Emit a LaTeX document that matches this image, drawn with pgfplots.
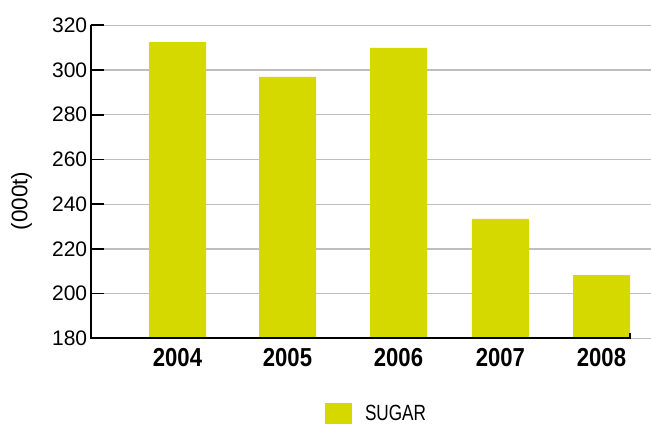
\documentclass[border=0pt]{standalone}
\usepackage{pgfplots}
\pgfplotsset{compat=1.18}
\usepackage{fontspec}
\setmainfont{Liberation Sans}
\newfontfamily\condfont{Liberation Sans}[FakeStretch=0.78]
\newfontfamily\xfont{Liberation Sans}[FakeStretch=0.85]
\definecolor{sugar}{RGB}{213,217,0}
\definecolor{gridgray}{RGB}{190,190,190}
\begin{document}
\begin{tikzpicture}
\useasboundingbox (0,0) rectangle (651pt,-425pt);
\begin{axis}[
  at={(90.7pt,-338.3pt)}, anchor=south west,
  scale only axis, width=560.3pt, height=313pt,
  xmin=90.7, xmax=651, ymin=180, ymax=320,
  axis line style={draw=none},
  ytick={180,200,...,320},
  ytick pos=left,
  tick align=inside,
  major tick length=13pt,
  ytick style={black, line width=1.7pt},
  xtick={177.5,287.5,398.5,500.4,601.5},
  xticklabels={2004,2005,2006,2007,2008},
  xtick style={draw=none},
  ymajorgrids,
  grid style={gridgray, line width=1.3pt},
  /pgf/number format/assume math mode=true,
  yticklabel style={font=\fontsize{21}{21}\selectfont},
  xticklabel style={font=\xfont\bfseries\fontsize{26}{26}\selectfont, yshift=-6.5pt},
  ylabel={(000t)},
  ylabel style={at={(axis description cs:-0.1235,0.4387)}, anchor=center, font=\fontsize{22.5}{22.5}\selectfont},
  legend style={at={(axis description cs:0.4182,-0.2748)}, anchor=south west,
    draw=none, fill=none, inner sep=0pt, outer sep=0pt,
    font=\condfont\fontsize{22}{22}\selectfont,
    nodes={inner sep=0pt},
    /tikz/every odd column/.append style={column sep=13pt}},
  legend image code/.code={\fill[sugar] (0pt,-10.5pt) rectangle (27pt,10.5pt);},
  clip mode=individual,
]
\addplot[ybar, fill=sugar, draw=none, bar width=57, bar shift=0pt]
  coordinates {(177.5,312.5) (287.5,296.9) (398.5,309.85) (500.4,233.4) (601.5,208.3)};
\addlegendentry{SUGAR}
\draw[black, line width=1.7pt] (axis cs:90.7,320) -- ([xshift=13pt]axis cs:90.7,320);
\draw[black, line width=1.7pt] (axis cs:90.7,300) -- ([xshift=13pt]axis cs:90.7,300);
\draw[black, line width=1.7pt] (axis cs:90.7,280) -- ([xshift=13pt]axis cs:90.7,280);
\draw[black, line width=1.7pt] (axis cs:90.7,260) -- ([xshift=13pt]axis cs:90.7,260);
\draw[black, line width=1.7pt] (axis cs:90.7,240) -- ([xshift=13pt]axis cs:90.7,240);
\draw[black, line width=1.7pt] (axis cs:90.7,220) -- ([xshift=13pt]axis cs:90.7,220);
\draw[black, line width=1.7pt] (axis cs:90.7,200) -- ([xshift=13pt]axis cs:90.7,200);
\draw[black, line width=1.8pt] (axis cs:90.7,320) -- (axis cs:90.7,180) -- (axis cs:630,180) -- ([yshift=5pt]axis cs:630,180);
\end{axis}
\end{tikzpicture}
\end{document}
